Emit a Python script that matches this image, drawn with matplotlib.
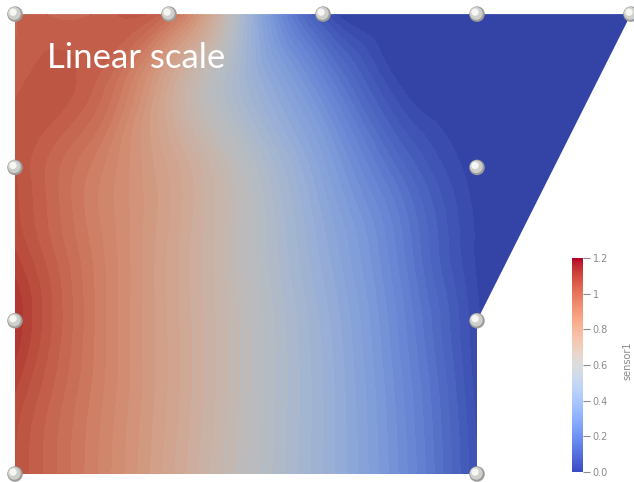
import numpy as np
import matplotlib
matplotlib.use("Agg")
import matplotlib.pyplot as plt
import matplotlib.tri as mtri
from matplotlib.colors import ListedColormap, Normalize
from matplotlib.patches import Polygon
from matplotlib.path import Path
from matplotlib import transforms
from matplotlib.cm import ScalarMappable

# sensor1 sampled on a regular lattice: x = 0..3, y = 0..3 (step 0.5)
grid_x = [0.0, 0.5, 1.0, 1.5, 2.0, 2.5, 3.0]
grid_y = [0.0, 0.5, 1.0, 1.5, 2.0, 2.5, 3.0]
grid_vals = [
    [1.05, 0.91, 0.76, 0.60, 0.45, 0.27, 0.05],   # y = 0.0
    [1.07, 0.92, 0.77, 0.61, 0.45, 0.26, 0.04],   # y = 0.5
    [1.12, 0.93, 0.77, 0.61, 0.44, 0.24, 0.03],   # y = 1.0
    [1.07, 0.92, 0.77, 0.60, 0.41, 0.21, 0.02],   # y = 1.5
    [1.05, 0.92, 0.77, 0.58, 0.36, 0.14, 0.01],   # y = 2.0
    [1.02, 1.00, 0.74, 0.48, 0.25, 0.03, 0.00],   # y = 2.5
    [1.00, 1.00, 0.97, 0.48, 0.06, 0.00, 0.00],   # y = 3.0
]
# samples in the slanted wedge on the upper right
wedge_x = [3.25, 3.5, 3.5, 3.75, 3.5, 4.0]
wedge_y = [1.5, 2.0, 2.5, 2.5, 3.0, 3.0]
wedge_vals = [0.0, 0.0, 0.0, 0.0, 0.0, 0.0]

# outline of the part and its mesh nodes
outline = [(0, 0), (3, 0), (3, 1), (4, 3), (0, 3)]
node_x = [0, 3, 0, 3, 0, 3, 0, 1, 2, 3, 4]
node_y = [0, 0, 1, 1, 2, 2, 3, 3, 3, 3, 3]

cbar_ticks = [0.0, 0.2, 0.4, 0.6, 0.8, 1.0, 1.2]
cbar_labels = ["0.0", "0.2", "0.4", "0.6", "0.8", "1", "1.2"]
vmin, vmax = 0.0, 1.2

# ---------------------------------------------------------------------------
W, H = 634, 482
fig = plt.figure(figsize=(W / 100, H / 100), dpi=100)
ax = fig.add_axes([0, 0, 1, 1])
sx, sy = 154.0, 153.3          # pixels per model unit
ox, oy = 15.0, 474.0           # pixel position of the origin
ax.set_xlim(-ox / sx, (W - ox) / sx)
ax.set_ylim(-(H - oy) / sy, oy / sy)
ax.axis("off")

gx, gy = np.meshgrid(grid_x, grid_y)
xs = np.concatenate([gx.ravel(), wedge_x])
ys = np.concatenate([gy.ravel(), wedge_y])
zs = np.concatenate([np.asarray(grid_vals).ravel(), wedge_vals])

tri = mtri.Triangulation(xs, ys)
cent = np.column_stack([xs[tri.triangles].mean(axis=1), ys[tri.triangles].mean(axis=1)])
inside = Path(outline).contains_points(cent, radius=1e-9)
tri.set_mask(~inside)

# smooth the nodal field over the mesh for rendering
refiner = mtri.UniformTriRefiner(tri)
tri_f, z_f = refiner.refine_field(zs, subdiv=3)

# lit surface: cool-to-warm map darkened by the scene lighting
base = plt.get_cmap("coolwarm")
lit = base(np.linspace(0, 1, 256))
lit[:, :3] *= 0.85
lit_cmap = ListedColormap(lit)

levels = np.linspace(vmin, vmax, 49)
norm = Normalize(vmin, vmax)
cs = ax.tricontourf(tri_f, np.clip(z_f, vmin, vmax - 1e-6), levels=levels,
                    cmap=lit_cmap, norm=norm, zorder=1)
clip = Polygon(outline, closed=True, transform=ax.transData, facecolor="none", edgecolor="none")
ax.add_patch(clip)
cs.set_clip_path(clip)

# node spheres
def shifted(dx, dy):
    return transforms.offset_copy(ax.transData, fig=fig, x=dx, y=dy, units="points")

ax.scatter(node_x, node_y, s=125, color="#9c9c9a", edgecolors="none", zorder=5, clip_on=False)
ax.scatter(node_x, node_y, s=85, color="#cfcfcc", edgecolors="none", zorder=6,
           transform=shifted(-0.5, 0.5), clip_on=False)
ax.scatter(node_x, node_y, s=28, color="#f6f6f4", edgecolors="none", zorder=7,
           transform=shifted(-1.4, 1.4), clip_on=False)

# title
fig.text(47 / W, 1 - 68 / H, "Linear scale", color="white", fontsize=25,
         family="Lato", va="baseline", ha="left")

# scalar bar
cax = fig.add_axes([572 / W, (H - 472) / H, 11 / W, 214 / H])
sm = ScalarMappable(norm=norm, cmap=base)
cb = fig.colorbar(sm, cax=cax, orientation="vertical")
cb.outline.set_visible(False)
cb.set_ticks(cbar_ticks)
cb.set_ticklabels(cbar_labels)
cax.tick_params(axis="y", right=True, left=False, length=5, width=0.8,
                colors="#8a8a8a", labelsize=7, pad=2)
fig.text(627 / W, 1 - 361 / H, "sensor1", rotation=90, color="#8a8a8a",
         fontsize=7, ha="center", va="center")

fig.savefig("out.png", dpi=100)
